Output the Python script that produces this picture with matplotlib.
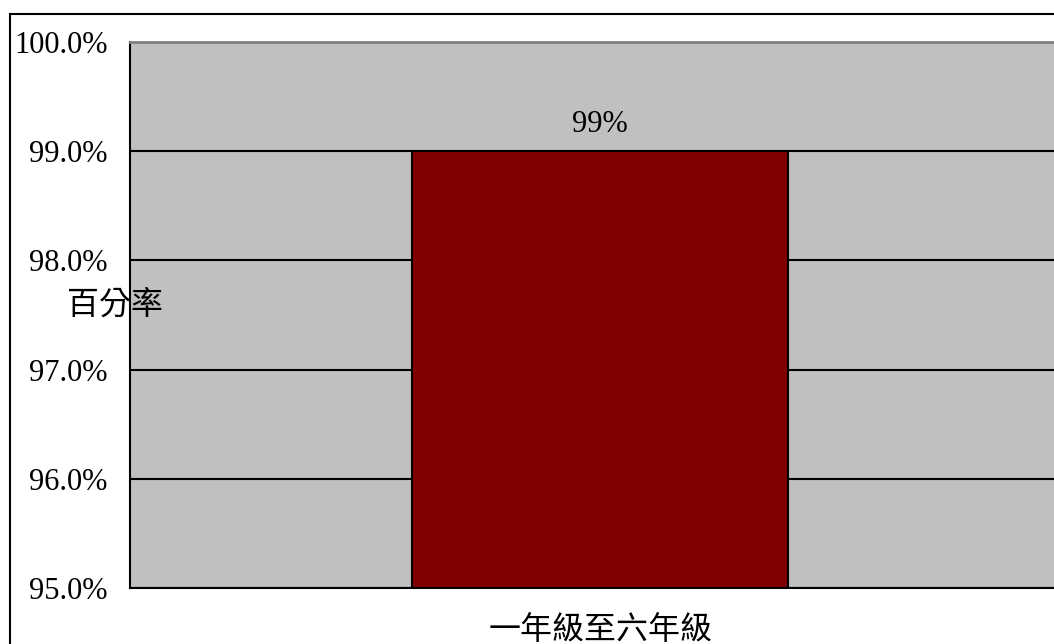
#!/usr/bin/env python3
# coding: utf-8
import matplotlib
matplotlib.use('Agg')
import matplotlib.pyplot as plt
from matplotlib.patches import Rectangle
from matplotlib.ticker import FuncFormatter

# Data
categories = ['一年級至六年級']
values = [99.0]
bar_labels = ['99%']
y_ticks = [95, 96, 97, 98, 99, 100]

plt.rcParams['font.family'] = ['Liberation Serif', 'Noto Sans CJK TC', 'DejaVu Sans']
cjk = ['Noto Sans CJK TC', 'DejaVu Sans']

fig = plt.figure(figsize=(10.54, 6.44), dpi=100)

# Outer chart frame (runs past the right and bottom edges)
fig.patches.append(Rectangle((10 / 1054, -0.2), 1.2, 1.2 - 14 / 644,
                             transform=fig.transFigure, fill=False,
                             edgecolor='black', linewidth=1.5, zorder=0))

# Axes extends beyond the right edge, as in the reference
ax = fig.add_axes([130 / 1054, 56 / 644, 940 / 1054, 546 / 644])
ax.set_facecolor('#C0C0C0')

x = range(len(categories))
bars = ax.bar(x, [v - 95 for v in values], bottom=95, width=0.4,
              color='#800000', edgecolor='black', linewidth=1.5, zorder=3)

for rect, lab in zip(bars, bar_labels):
    ax.text(rect.get_x() + rect.get_width() / 2, rect.get_y() + rect.get_height() + 0.24,
            lab, ha='center', va='center', fontsize=22, zorder=4)

ax.set_xlim(-0.5, 0.5)
ax.set_ylim(95, 100)
ax.set_yticks(y_ticks)
ax.yaxis.set_major_formatter(FuncFormatter(lambda v, p: '{0:.1f}%'.format(v)))
ax.set_xticks([])
ax.tick_params(axis='y', length=0, pad=16, labelsize=22)

ax.yaxis.grid(True, color='black', linewidth=1.5, zorder=1)
ax.set_axisbelow(True)

ax.spines['right'].set_visible(False)
ax.spines['top'].set_color('#808080')
ax.spines['top'].set_linewidth(2)
ax.spines['left'].set_linewidth(1.5)
ax.spines['bottom'].set_linewidth(1.5)

# Axis titles
fig.text(115 / 1054, 1 - 305 / 644, '百分率', ha='center', va='center',
         fontsize=23, family=cjk, fontweight='light')
fig.text(601 / 1054, 1 - 630 / 644, categories[0], ha='center', va='center',
         fontsize=23, family=cjk, fontweight='light')

fig.savefig('out.png', dpi=100)
